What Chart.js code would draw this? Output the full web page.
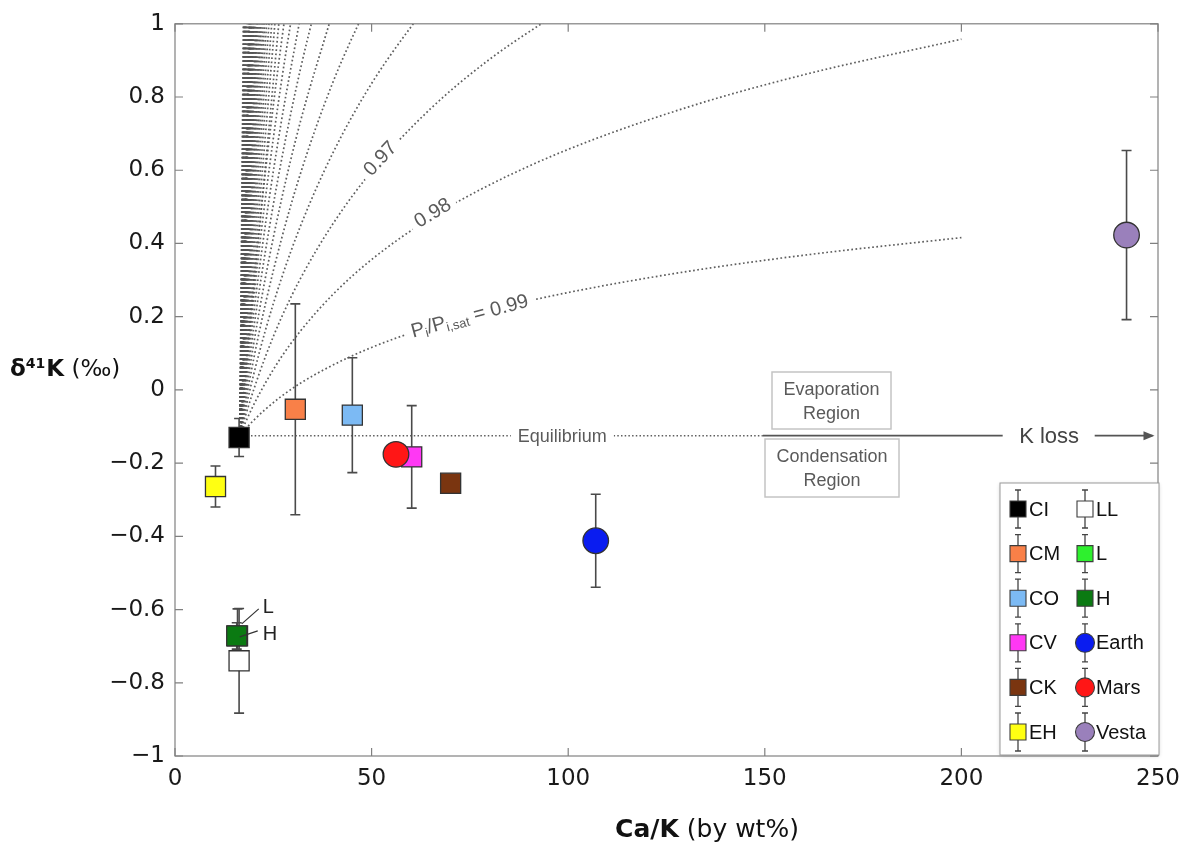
<!DOCTYPE html>
<html lang="en">
<head>
<meta charset="UTF-8">
<title>δ41K vs Ca/K</title>
<script src="https://cdn.jsdelivr.net/npm/chart.js"></script>
<style>
  body { margin: 0; background: #fff; }
  #wrap { width: 1192px; height: 844px; }
</style>
</head>
<body>
<div id="wrap"><canvas id="kChart" width="1192" height="844"></canvas></div>
<script>
// samples
const groups = ['CI', 'CM', 'CO', 'CV', 'CK', 'EH', 'LL', 'L', 'H', 'Earth', 'Mars', 'Vesta'];
const caK = [16.3, 30.6, 45.1, 60.2, 70.1, 10.3, 16.3, 15.9, 15.7, 107.0, 56.2, 242.0];
const d41K = [-0.13, -0.053, -0.069, -0.183, -0.255, -0.264, -0.74, -0.672, -0.672, -0.412, -0.176, 0.423];
const d41KErr = [0.052, 0.288, 0.157, 0.14, 0.009, 0.056, 0.143, 0.074, 0.036, 0.127, 0.02, 0.231];

const xTicks = [0, 50, 100, 150, 200, 250];
const yTicks = [-1, -0.8, -0.6, -0.4, -0.2, 0, 0.2, 0.4, 0.6, 0.8, 1];

// evaporation curves for Pi/Pi,sat = 0.99 ... 0.90
const curveCaK = [16.5, 18, 20, 23, 27, 32, 40, 50, 65, 80, 100, 130, 160, 200];
const curveSat099 = [-0.125, -0.106, -0.083, -0.053, -0.018, 0.019, 0.067, 0.116, 0.173, 0.218, 0.266, 0.323, 0.368, 0.416];
const curveSat098 = [-0.125, -0.087, -0.041, 0.019, 0.089, 0.162, 0.259, 0.356, 0.470, 0.560, 0.657, 0.771, 0.861, 0.958];
const curveSat097 = [-0.125, -0.068, 0.000, 0.091, 0.196, 0.306, 0.451, 0.597, 0.768, 0.903, 1.048];
const curveSat096 = [-0.125, -0.049, 0.042, 0.163, 0.302, 0.450, 0.644, 0.837, 1.065];
const curveSat095 = [-0.125, -0.031, 0.084, 0.235, 0.409, 0.594, 0.836, 1.078];
const curveSat094 = [-0.125, -0.012, 0.125, 0.307, 0.516, 0.737, 1.028];
const curveSat093 = [-0.125, 0.007, 0.167, 0.379, 0.623, 0.881, 1.220];
const curveSat092 = [-0.125, 0.026, 0.209, 0.452, 0.730, 1.025];
const curveSat091 = [-0.125, 0.045, 0.251, 0.524, 0.837, 1.169];
const curveSat090 = [-0.125, 0.064, 0.293, 0.596, 0.944, 1.312];
// lower saturations: Ca/K where each curve leaves the top of the frame
const fanTopCaK = [26.4, 25.4, 24.6, 23.9, 23.3, 22.8, 22.4, 22.0, 21.7, 21.4, 21.1, 20.9, 20.7, 20.5, 20.3,
                   20.1, 20.0, 19.9, 19.7, 19.6, 19.5, 19.4, 19.3, 19.2, 19.1, 19.06, 18.98, 18.91, 18.85, 18.78,
                   18.61, 18.47, 18.30, 18.13, 17.99, 17.87, 17.77, 17.60, 17.48, 17.38];
const fanOrigin = { x: 16.5, y: -0.125 };
const equilibriumCaK = [16.5, 149.5];
const kLossCaK = [149.5, 210.5];
const arrowCaK = [233.9, 248.6];

// styles
const markerShape = ['rect', 'rect', 'rect', 'rect', 'rect', 'rect', 'rect', 'rect', 'rect', 'circle', 'circle', 'circle'];
const markerFill = ['#000000', '#f98048', '#7cbaf4', '#ff38f4', '#7a3510', '#ffff12', '#ffffff', '#2ef02e', '#0b7a12', '#0a1cf0', '#ff1616', '#9a80bb'];
const dotted = { showLine: true, pointRadius: 0, borderColor: 'rgba(85,85,85,0.95)', borderWidth: 1.7, borderDash: [1.7, 2.5], order: 5 };

const datasets = [];
groups.forEach((g, i) => {
    datasets.push({
        label: g,
        data: [{ x: caK[i], y: d41K[i] }],
        pointStyle: markerShape[i],
        pointRadius: markerShape[i] === 'rect' ? 14.2 : 12.8,
        backgroundColor: markerFill[i],
        borderColor: '#333',
        borderWidth: 1.3,
        order: (g === 'Mars' || g === 'H') ? 1 : 2
    });
});

[curveSat099, curveSat098, curveSat097, curveSat096, curveSat095, curveSat094, curveSat093, curveSat092, curveSat091, curveSat090]
    .forEach(vals => {
        datasets.push(Object.assign({}, dotted, {
            data: vals.map((v, j) => ({ x: curveCaK[j], y: v })),
            cubicInterpolationMode: 'monotone'
        }));
    });

fanTopCaK.forEach(xt => {
    datasets.push(Object.assign({}, dotted, {
        data: [fanOrigin, { x: xt, y: 1 }]
    }));
});

datasets.push(Object.assign({}, dotted, {
    data: equilibriumCaK.map(v => ({ x: v, y: fanOrigin.y })),
    borderDash: [1.5, 2.2], borderWidth: 1.5
}));
datasets.push({ showLine: true, pointRadius: 0, borderColor: '#555', borderWidth: 1.6, order: 5,
    data: kLossCaK.map(v => ({ x: v, y: fanOrigin.y })) });
datasets.push({ showLine: true, pointRadius: 0, borderColor: '#555', borderWidth: 1.6, order: 5,
    data: arrowCaK.map(v => ({ x: v, y: fanOrigin.y })) });

function fmtY(v) {
    const r = Math.round(v * 10) / 10;
    return r < 0 ? '\u2212' + Math.abs(r) : String(r);
}

// draws a run of text pieces, rotated, on a white patch (gap in the curve)
function rotatedLabel(ctx, parts, cx, cy, deg) {
    ctx.save();
    ctx.translate(cx, cy);
    ctx.rotate(deg * Math.PI / 180);
    let w = 0;
    parts.forEach(p => { ctx.font = p.font; w += ctx.measureText(p.text).width; });
    ctx.fillStyle = '#fff';
    ctx.fillRect(-w / 2 - 6, -13, w + 12, 26);
    ctx.fillStyle = '#5a5a5a';
    ctx.textBaseline = 'middle';
    let xx = -w / 2;
    parts.forEach(p => {
        ctx.font = p.font;
        ctx.fillText(p.text, xx, p.dy || 0);
        xx += ctx.measureText(p.text).width;
    });
    ctx.restore();
}

function drawMarker(ctx, shape, cx, cy, fill, size) {
    ctx.fillStyle = fill;
    ctx.strokeStyle = '#3c3c3c';
    ctx.lineWidth = 1.1;
    ctx.beginPath();
    if (shape === 'circle') ctx.arc(cx, cy, size / 2 + 1.5, 0, Math.PI * 2);
    else ctx.rect(cx - size / 2, cy - size / 2, size, size);
    ctx.fill();
    ctx.stroke();
}

const decorations = {
    id: 'decorations',
    beforeDatasetsDraw(chart) {
        const { ctx, scales: { x, y } } = chart;
        ctx.save();
        ctx.strokeStyle = '#4a4a4a';
        ctx.lineWidth = 1.6;
        groups.forEach((g, i) => {
            const px = x.getPixelForValue(caK[i]);
            const top = y.getPixelForValue(d41K[i] + d41KErr[i]);
            const bot = y.getPixelForValue(d41K[i] - d41KErr[i]);
            ctx.beginPath();
            ctx.moveTo(px, top); ctx.lineTo(px, bot);
            ctx.moveTo(px - 5, top); ctx.lineTo(px + 5, top);
            ctx.moveTo(px - 5, bot); ctx.lineTo(px + 5, bot);
            ctx.stroke();
        });
        ctx.restore();
    },
    afterDatasetsDraw(chart) {
        const { ctx, scales: { x, y } } = chart;
        const f = '20px "Liberation Sans", Arial, sans-serif';
        const fs = '13px "Liberation Sans", Arial, sans-serif';
        rotatedLabel(ctx, [{ text: '0.97', font: f }], x.getPixelForValue(52.3), y.getPixelForValue(0.631), -47);
        rotatedLabel(ctx, [{ text: '0.98', font: f }], x.getPixelForValue(65.6), y.getPixelForValue(0.482), -31);
        rotatedLabel(ctx, [
            { text: 'P', font: f }, { text: 'i', font: fs, dy: 5 }, { text: '/P', font: f },
            { text: 'i,sat', font: fs, dy: 5 }, { text: ' = 0.99', font: f }
        ], x.getPixelForValue(75), y.getPixelForValue(0.2), -15);

        // equilibrium label
        const ey = y.getPixelForValue(fanOrigin.y);
        const ex = x.getPixelForValue(98.5);
        ctx.save();
        ctx.font = '18px "Liberation Sans", Arial, sans-serif';
        const ew = ctx.measureText('Equilibrium').width;
        ctx.fillStyle = '#fff';
        ctx.fillRect(ex - ew / 2 - 7, ey - 10, ew + 14, 20);
        ctx.fillStyle = '#5a5a5a';
        ctx.textAlign = 'center';
        ctx.textBaseline = 'middle';
        ctx.fillText('Equilibrium', ex, ey + 1);

        // K loss + arrow head
        ctx.fillStyle = '#444';
        ctx.font = '22px "Liberation Sans", Arial, sans-serif';
        ctx.fillText('K loss', x.getPixelForValue(222.3), ey + 1);
        const tip = x.getPixelForValue(arrowCaK[1]) + 2;
        ctx.fillStyle = '#555';
        ctx.beginPath();
        ctx.moveTo(tip, ey);
        ctx.lineTo(tip - 11, ey - 4.5);
        ctx.lineTo(tip - 11, ey + 4.5);
        ctx.closePath();
        ctx.fill();

        // region boxes
        ctx.strokeStyle = '#c4c4c4';
        ctx.lineWidth = 1.5;
        ctx.strokeRect(772, 372, 119, 57);
        ctx.strokeRect(765, 439, 134, 58);
        ctx.fillStyle = '#5a5a5a';
        ctx.font = '18px "Liberation Sans", Arial, sans-serif';
        ctx.fillText('Evaporation', 831.5, 390);
        ctx.fillText('Region', 831.5, 414);
        ctx.fillText('Condensation', 832, 457);
        ctx.fillText('Region', 832, 481);

        // L / H callouts
        const hx = x.getPixelForValue(caK[8]);
        const hy = y.getPixelForValue(d41K[8]);
        ctx.strokeStyle = '#333';
        ctx.lineWidth = 1.2;
        ctx.beginPath();
        ctx.moveTo(hx + 5, hy - 12); ctx.lineTo(hx + 22, hy - 27);
        ctx.moveTo(hx + 3, hy + 1); ctx.lineTo(hx + 21, hy - 5);
        ctx.stroke();
        ctx.fillStyle = '#222';
        ctx.font = '20px "Liberation Sans", Arial, sans-serif';
        ctx.textAlign = 'left';
        ctx.fillText('L', hx + 26, hy - 28);
        ctx.fillText('H', hx + 26, hy - 1);
        ctx.restore();
    },
    afterDraw(chart) {
        const { ctx, chartArea: a, scales: { x, y } } = chart;
        ctx.save();
        // frame + inward ticks on all four sides
        ctx.strokeStyle = '#808080';
        ctx.lineWidth = 1.2;
        ctx.strokeRect(a.left, a.top, a.right - a.left, a.bottom - a.top);
        ctx.beginPath();
        xTicks.forEach(v => {
            const p = x.getPixelForValue(v);
            ctx.moveTo(p, a.bottom); ctx.lineTo(p, a.bottom - 8);
            ctx.moveTo(p, a.top); ctx.lineTo(p, a.top + 8);
        });
        yTicks.forEach(v => {
            const p = y.getPixelForValue(v);
            ctx.moveTo(a.left, p); ctx.lineTo(a.left + 8, p);
            ctx.moveTo(a.right, p); ctx.lineTo(a.right - 8, p);
        });
        ctx.stroke();

        // axis titles
        ctx.fillStyle = '#111';
        ctx.textBaseline = 'alphabetic';
        const bold = s => 'bold ' + s + 'px "DejaVu Sans", sans-serif';
        const reg = s => s + 'px "DejaVu Sans", sans-serif';
        let tx = 10;
        const ty = 376;
        [['\u03b4', bold(23), 0], ['41', bold(14), -8], ['K', bold(23), 0], [' (\u2030)', reg(23), 0]].forEach(p => {
            ctx.font = p[1];
            ctx.fillText(p[0], tx, ty + p[2]);
            tx += ctx.measureText(p[0]).width + (p[0] === '41' ? 1 : 0);
        });
        ctx.font = bold(25);
        const w1 = ctx.measureText('Ca/K').width;
        ctx.font = reg(25);
        const w2 = ctx.measureText(' (by wt%)').width;
        let sx = 707 - (w1 + w2) / 2;
        ctx.font = bold(25);
        ctx.fillText('Ca/K', sx, 837);
        ctx.font = reg(25);
        ctx.fillText(' (by wt%)', sx + w1, 837);

        // legend
        const L = { left: 1000, top: 483, right: 1159, bottom: 755 };
        ctx.shadowColor = 'rgba(0,0,0,0.18)';
        ctx.shadowBlur = 4;
        ctx.shadowOffsetY = 1;
        ctx.fillStyle = '#fff';
        ctx.fillRect(L.left, L.top, L.right - L.left, L.bottom - L.top);
        ctx.shadowColor = 'transparent';
        ctx.strokeStyle = '#9a9a9a';
        ctx.lineWidth = 1;
        ctx.strokeRect(L.left, L.top, L.right - L.left, L.bottom - L.top);
        const colX = [1018, 1085];
        groups.forEach((g, i) => {
            const cx = colX[Math.floor(i / 6)];
            const cy = 509 + (i % 6) * 44.6;
            ctx.strokeStyle = '#444';
            ctx.lineWidth = 1.3;
            ctx.beginPath();
            ctx.moveTo(cx, cy - 19); ctx.lineTo(cx, cy + 19);
            ctx.moveTo(cx - 3, cy - 19); ctx.lineTo(cx + 3, cy - 19);
            ctx.moveTo(cx - 3, cy + 19); ctx.lineTo(cx + 3, cy + 19);
            ctx.stroke();
            drawMarker(ctx, markerShape[i], cx, cy, markerFill[i], 16);
            ctx.fillStyle = '#111';
            ctx.font = '20px "Liberation Sans", Arial, sans-serif';
            ctx.textBaseline = 'middle';
            ctx.fillText(g, cx + 11, cy + 1);
        });
        ctx.restore();
    }
};

new Chart(document.getElementById('kChart'), {
    type: 'scatter',
    data: { datasets: datasets },
    options: {
        responsive: false,
        animation: false,
        events: [],
        layout: { padding: { left: 0, right: 34, top: 18, bottom: 0 } },
        plugins: { legend: { display: false }, tooltip: { enabled: false } },
        scales: {
            x: {
                type: 'linear', min: 0, max: 250,
                afterBuildTicks: s => { s.ticks = xTicks.map(v => ({ value: v })); },
                afterFit: s => { s.height = 88; },
                grid: { display: false, drawTicks: false },
                border: { display: false },
                ticks: { padding: 9, color: '#1a1a1a', font: { family: '"DejaVu Sans", sans-serif', size: 23 } }
            },
            y: {
                type: 'linear', min: -1, max: 1,
                afterBuildTicks: s => { s.ticks = yTicks.map(v => ({ value: v })); },
                afterFit: s => { s.width = 175; },
                grid: { display: false, drawTicks: false },
                border: { display: false },
                ticks: { padding: 10, color: '#1a1a1a', callback: fmtY,
                         font: { family: '"DejaVu Sans", sans-serif', size: 23 } }
            }
        }
    },
    plugins: [decorations]
});
</script>
</body>
</html>
